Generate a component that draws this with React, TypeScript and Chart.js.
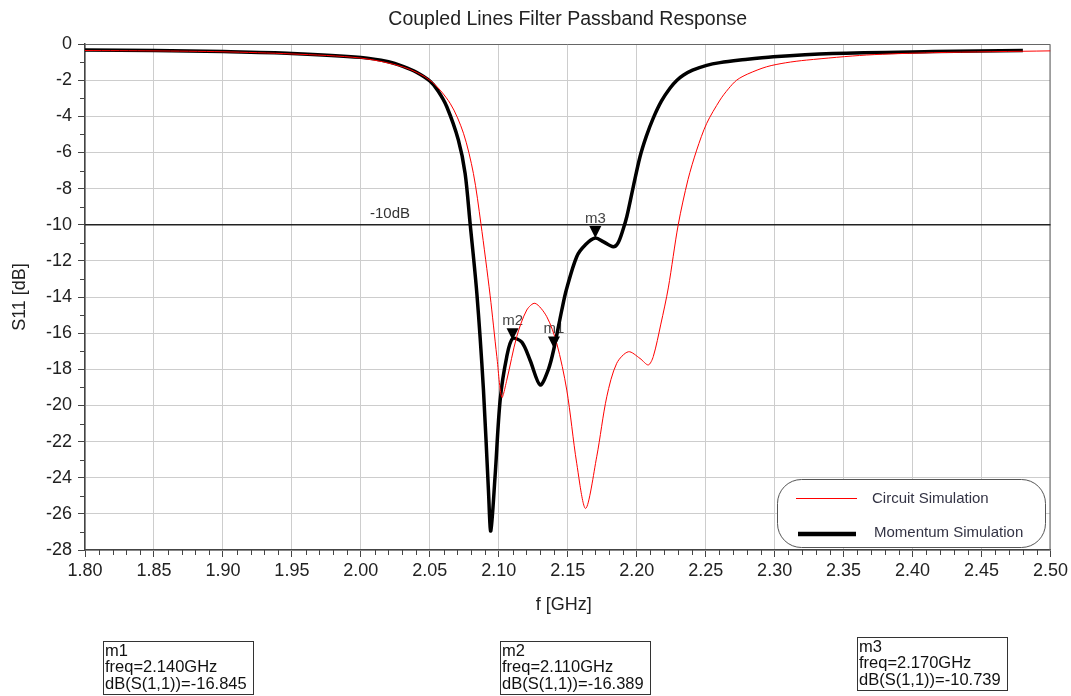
import React, { useEffect, useRef } from "react";
import { Chart, registerables } from "chart.js";

Chart.register(...registerables);

const TITLE = "Coupled Lines Filter Passband Response";
const X_TITLE = "f [GHz]";
const Y_TITLE = "S11 [dB]";

const X_MIN = 1.8;
const X_MAX = 2.5;
const X_STEP = 0.05;
const X_MINOR = 0.01;
const Y_MIN = -28;
const Y_MAX = 0;
const Y_STEP = 2;
const Y_MINOR = 1;

const momentumFreq = [
  1.8, 1.85, 1.9, 1.95, 2.0, 2.02, 2.031, 2.04, 2.05, 2.056, 2.0623, 2.0707, 2.0756, 2.0792,
  2.0841, 2.0889, 2.0925, 2.0942, 2.0973, 2.101, 2.1058, 2.11, 2.1167, 2.1227, 2.13, 2.136,
  2.14, 2.1457, 2.149, 2.1565, 2.163, 2.17, 2.176, 2.183, 2.1865, 2.19, 2.1928, 2.1975, 2.2024,
  2.207, 2.212, 2.218, 2.2241, 2.229, 2.234, 2.2405, 2.2507, 2.2604, 2.2749, 2.299, 2.342, 2.415,
  2.48,
];
const momentumDb = [
  -0.33, -0.36, -0.42, -0.52, -0.74, -0.98, -1.25, -1.55, -2.05, -2.6, -3.47, -5.31, -7.16, -9.92,
  -13.8, -19.15, -24.68, -26.95, -23.94, -19.7, -17.3, -16.3, -16.5, -17.5, -18.87, -18.0,
  -16.85, -14.72, -13.6, -11.77, -11.1, -10.74, -10.95, -11.22, -11.0, -10.29, -9.56, -7.9, -6.24,
  -5.1, -4.1, -3.15, -2.45, -2.02, -1.72, -1.45, -1.18, -1.03, -0.89, -0.7, -0.52, -0.42,
  -0.36,
];

const circuitFreq = [
  1.8, 1.85, 1.9, 1.95, 2.0, 2.031, 2.05, 2.0647, 2.0744, 2.0816, 2.087, 2.0937, 2.0986, 2.1022,
  2.1058, 2.113, 2.1203, 2.1263, 2.1348, 2.142, 2.1493, 2.1565, 2.163, 2.171, 2.1783, 2.1855,
  2.194, 2.2024, 2.2084, 2.212, 2.2175, 2.2229, 2.2301, 2.2372, 2.2435, 2.2507, 2.2604, 2.2665,
  2.2725, 2.2805, 2.2942, 2.308, 2.3232, 2.3667, 2.415, 2.5,
];
const circuitDb = [
  -0.36, -0.38, -0.43, -0.55, -0.78, -1.28, -2.0, -3.28, -4.94, -7.16, -9.92, -13.9, -17.3, -19.55,
  -18.6, -16.2, -14.72, -14.35, -15.09, -16.56, -19.15, -23.2, -25.7, -22.84, -19.52, -17.67,
  -17.03, -17.4, -17.76, -17.3, -15.5, -13.5, -10.0, -7.5, -5.87, -4.4, -3.1, -2.48,
  -2.0, -1.66, -1.26, -1.04, -0.89, -0.61, -0.48, -0.38,
];

const seriesNames = ["Circuit Simulation", "Momentum Simulation"];

const markerNames = ["m1", "m2", "m3"];
const markerFreq = [2.14, 2.11, 2.17];
const markerDb = [-16.845, -16.389, -10.739];

const LIMIT_DB = -10;
const LIMIT_LABEL = "-10dB";

const FONT = "'Liberation Sans', Arial, sans-serif";

const decorPlugin = {
  id: "decor",
  beforeDatasetsDraw(chart: any) {
    const { ctx, chartArea, scales } = chart;
    const { left, right, top, bottom } = chartArea;
    const x = scales.x;
    const y = scales.y;
    ctx.save();
    // top / right frame
    ctx.strokeStyle = "#666";
    ctx.lineWidth = 1;
    ctx.beginPath();
    ctx.moveTo(left, top + 0.5);
    ctx.lineTo(right - 0.5, top + 0.5);
    ctx.lineTo(right - 0.5, bottom);
    ctx.stroke();

    // minor ticks
    ctx.strokeStyle = "#444";
    ctx.lineWidth = 1;
    ctx.beginPath();
    const nx = Math.round((X_MAX - X_MIN) / X_MINOR);
    for (let i = 0; i <= nx; i++) {
      if (i % 5 === 0) continue;
      const px = Math.round(x.getPixelForValue(X_MIN + i * X_MINOR)) + 0.5;
      ctx.moveTo(px, bottom);
      ctx.lineTo(px, bottom + 5);
    }
    const ny = Math.round((Y_MAX - Y_MIN) / Y_MINOR);
    for (let i = 0; i <= ny; i++) {
      if (i % 2 === 0) continue;
      const py = Math.round(y.getPixelForValue(Y_MIN + i * Y_MINOR)) + 0.5;
      ctx.moveTo(left - 5, py);
      ctx.lineTo(left, py);
    }
    ctx.stroke();

    // limit line
    const yl = y.getPixelForValue(LIMIT_DB);
    ctx.strokeStyle = "#222";
    ctx.lineWidth = 1.4;
    ctx.beginPath();
    ctx.moveTo(left, yl);
    ctx.lineTo(right, yl);
    ctx.stroke();
    ctx.fillStyle = "#333";
    ctx.font = `15px ${FONT}`;
    ctx.textAlign = "left";
    ctx.textBaseline = "alphabetic";
    ctx.fillText(LIMIT_LABEL, left + 285, yl - 7);

    // marker labels (behind the traces)
    for (let i = 0; i < markerNames.length; i++) {
      const px = x.getPixelForValue(markerFreq[i]);
      const py = y.getPixelForValue(markerDb[i]);
      ctx.fillStyle = "#444";
      ctx.font = `15px ${FONT}`;
      ctx.textAlign = "center";
      ctx.textBaseline = "alphabetic";
      ctx.fillText(markerNames[i], px, py - 15);
    }
    ctx.restore();
  },
  afterDatasetsDraw(chart: any) {
    const { ctx, scales } = chart;
    const x = scales.x;
    const y = scales.y;
    ctx.save();
    for (let i = 0; i < markerNames.length; i++) {
      const px = x.getPixelForValue(markerFreq[i]);
      const py = y.getPixelForValue(markerDb[i]);
      ctx.fillStyle = "#000";
      ctx.beginPath();
      ctx.moveTo(px, py);
      ctx.lineTo(px - 6, py - 12);
      ctx.lineTo(px + 6, py - 12);
      ctx.closePath();
      ctx.fill();
    }
    ctx.restore();
  },
  afterDraw(chart: any) {
    const { ctx, chartArea } = chart;
    const { left, right, top, bottom } = chartArea;
    const cx = (left + right) / 2;
    ctx.save();
    // title
    ctx.fillStyle = "#222";
    ctx.font = `19.5px ${FONT}`;
    ctx.textAlign = "center";
    ctx.textBaseline = "middle";
    ctx.fillText(TITLE, cx, 20);
    // axis titles
    ctx.font = `18px ${FONT}`;
    ctx.fillText(X_TITLE, cx - 4, 605);
    ctx.save();
    ctx.translate(20, (top + bottom) / 2);
    ctx.rotate(-Math.PI / 2);
    ctx.fillText(Y_TITLE, 0, 0);
    ctx.restore();

    // legend
    const lx = 777.5, ly = 479.5, lw = 268, lh = 68, r = 24;
    ctx.beginPath();
    ctx.moveTo(lx + r, ly);
    ctx.lineTo(lx + lw - r, ly);
    ctx.arcTo(lx + lw, ly, lx + lw, ly + r, r);
    ctx.lineTo(lx + lw, ly + lh - r);
    ctx.arcTo(lx + lw, ly + lh, lx + lw - r, ly + lh, r);
    ctx.lineTo(lx + r, ly + lh);
    ctx.arcTo(lx, ly + lh, lx, ly + lh - r, r);
    ctx.lineTo(lx, ly + r);
    ctx.arcTo(lx, ly, lx + r, ly, r);
    ctx.closePath();
    ctx.fillStyle = "#fff";
    ctx.fill();
    ctx.strokeStyle = "#555";
    ctx.lineWidth = 1;
    ctx.stroke();
    ctx.strokeStyle = "#ff0000";
    ctx.lineWidth = 1;
    ctx.beginPath();
    ctx.moveTo(796, 498.5);
    ctx.lineTo(857, 498.5);
    ctx.stroke();
    ctx.strokeStyle = "#000";
    ctx.lineWidth = 4.5;
    ctx.beginPath();
    ctx.moveTo(798, 534);
    ctx.lineTo(856, 534);
    ctx.stroke();
    ctx.fillStyle = "#333344";
    ctx.font = `15px ${FONT}`;
    ctx.textAlign = "left";
    ctx.textBaseline = "middle";
    ctx.fillText(seriesNames[0], 872, 499);
    ctx.fillText(seriesNames[1], 874, 533);

    // marker readouts
    const boxLeft = [103.5, 500.5, 857.5];
    const boxTop = [641.5, 641.5, 637.5];
    const bw = 150, bh = 53;
    for (let i = 0; i < markerNames.length; i++) {
      const bx = boxLeft[i], by = boxTop[i];
      ctx.fillStyle = "#fff";
      ctx.fillRect(bx, by, bw, bh);
      ctx.strokeStyle = "#333";
      ctx.lineWidth = 1;
      ctx.strokeRect(bx, by, bw, bh);
      ctx.fillStyle = "#111";
      ctx.font = `16.5px ${FONT}`;
      ctx.textAlign = "left";
      ctx.textBaseline = "alphabetic";
      ctx.fillText(markerNames[i], bx + 1.5, by + 14);
      ctx.fillText(`freq=${markerFreq[i].toFixed(3)}GHz`, bx + 1.5, by + 30.5);
      ctx.fillText(`dB(S(1,1))=${markerDb[i].toFixed(3)}`, bx + 1.5, by + 47);
    }
    ctx.restore();
  },
};

export default function App() {
  const canvasRef = useRef<HTMLCanvasElement | null>(null);

  useEffect(() => {
    const canvas = canvasRef.current;
    if (!canvas) return;
    const chart = new Chart(canvas, {
      type: "line",
      data: {
        datasets: [
          {
            label: seriesNames[0],
            data: circuitFreq.map((f, i) => ({ x: f, y: circuitDb[i] })),
            borderColor: "#ff0000",
            borderWidth: 1,
            pointRadius: 0,
            tension: 0.3,
            order: 0,
          },
          {
            label: seriesNames[1],
            data: momentumFreq.map((f, i) => ({ x: f, y: momentumDb[i] })),
            borderColor: "#000000",
            borderWidth: 3.5,
            pointRadius: 0,
            tension: 0.3,
            order: 1,
          },
        ],
      },
      options: {
        animation: false,
        responsive: false,
        maintainAspectRatio: false,
        layout: { padding: { left: 0, right: 20, top: 44, bottom: 106 } },
        plugins: {
          legend: { display: false },
          tooltip: { enabled: false },
          title: { display: false },
        },
        scales: {
          x: {
            type: "linear",
            min: X_MIN,
            max: X_MAX,
            afterFit: (s: any) => {
              s.height = 40;
            },
            ticks: {
              stepSize: X_STEP,
              autoSkip: false,
              maxRotation: 0,
              padding: 3,
              color: "#222",
              font: { family: FONT, size: 18 },
              callback: (v: any) => Number(v).toFixed(2),
            },
            grid: { color: "#cdcdcd", tickColor: "#444", tickLength: 7, lineWidth: 1 },
            border: { color: "#444", width: 1.5 },
          },
          y: {
            type: "linear",
            min: Y_MIN,
            max: Y_MAX,
            afterFit: (s: any) => {
              s.width = 85;
            },
            ticks: {
              stepSize: Y_STEP,
              autoSkip: false,
              padding: 6,
              color: "#222",
              font: { family: FONT, size: 18 },
              callback: (v: any) => String(Math.round(Number(v))),
            },
            grid: { color: "#cdcdcd", tickColor: "#444", tickLength: 7, lineWidth: 1 },
            border: { color: "#444", width: 1.5 },
          },
        },
      },
      plugins: [decorPlugin],
    } as any);
    return () => chart.destroy();
  }, []);

  return (
    <div style={{ position: "fixed", left: 0, top: 0, width: 1071, height: 696, background: "#fff" }}>
      <canvas ref={canvasRef} width={1071} height={696} style={{ width: 1071, height: 696, display: "block" }} />
    </div>
  );
}
